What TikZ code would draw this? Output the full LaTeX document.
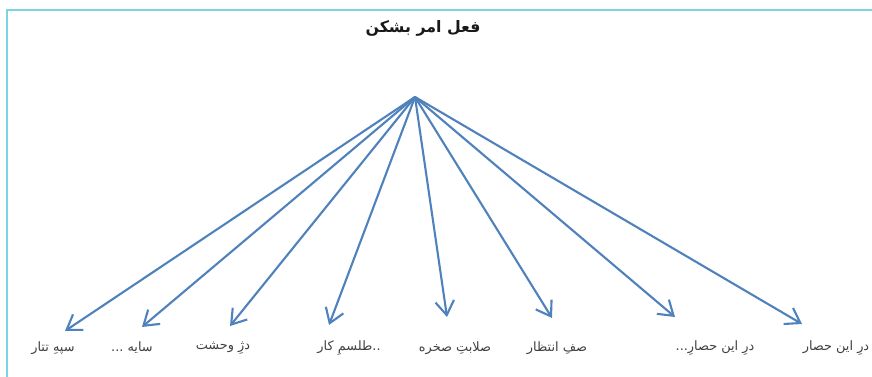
\documentclass[tikz,border=0pt]{standalone}
\usepackage{fontspec}
\newfontfamily\arabicfont[Script=Arabic]{DejaVu Sans}
\TeXXeTstate=1
\usetikzlibrary{arrows.meta}
\definecolor{framecyan}{RGB}{125,210,228}
\definecolor{arrowblue}{RGB}{79,129,189}
\tikzset{
  frame/.style={
    draw=framecyan,
    line width=1.6pt,
  },
  word/.style={
    font=\arabicfont\fontsize{11}{13}\selectfont,
    text=black!75,
    inner sep=1pt,
  },
  title/.style={
    word,
    font=\arabicfont\bfseries\fontsize{13.5}{16}\selectfont,
    text=black!90,
  },
  branch/.style={
    draw=arrowblue,
    line width=1.8pt,
    -{Straight Barb[length=4.2mm,width=5.6mm]},
  },
}

\begin{document}
\begin{tikzpicture}[x=0.03cm,y=-0.03cm]
  \useasboundingbox (0,0) rectangle (872,377);
  % frame, open to the right and below
  \draw[frame] (7,377) -- (7,10) -- (872,10);

  \node[title] (head) at (423,28) {\beginR فعل امر بشکن\endR};

  \coordinate (apex) at (415,97);

  % the eight words, right to left
  \node[word] (w1) at (836,348) {\beginR درِ این حصار\endR};
  \node[word] (w2) at (715,348) {\beginR درِ این حصارِ...\endR};
  \node[word] (w3) at (557,348) {\beginR صفِ انتظار\endR};
  \node[word] (w4) at (455,348) {\beginR صلابتِ صخره\endR};
  \node[word] (w5) at (349,348) {\beginR ..طلسمِ کار\endR};
  \node[word] (w6) at (223,348) {\beginR دژِ وحشت\endR};
  \node[word] (w7) at (132,348) {\beginR سایه ...\endR};
  \node[word] (w8) at (53,348) {\beginR سپهِ تتار\endR};

  % arrow tips
  \coordinate (t1) at (802,324);
  \coordinate (t2) at (675,317);
  \coordinate (t3) at (552,318);
  \coordinate (t4) at (447,317);
  \coordinate (t5) at (329,325);
  \coordinate (t6) at (230,326);
  \coordinate (t7) at (142,327);
  \coordinate (t8) at (65,331);

  \foreach \i in {1,...,8}
    \draw[branch] (apex) -- (t\i);
\end{tikzpicture}
\end{document}
